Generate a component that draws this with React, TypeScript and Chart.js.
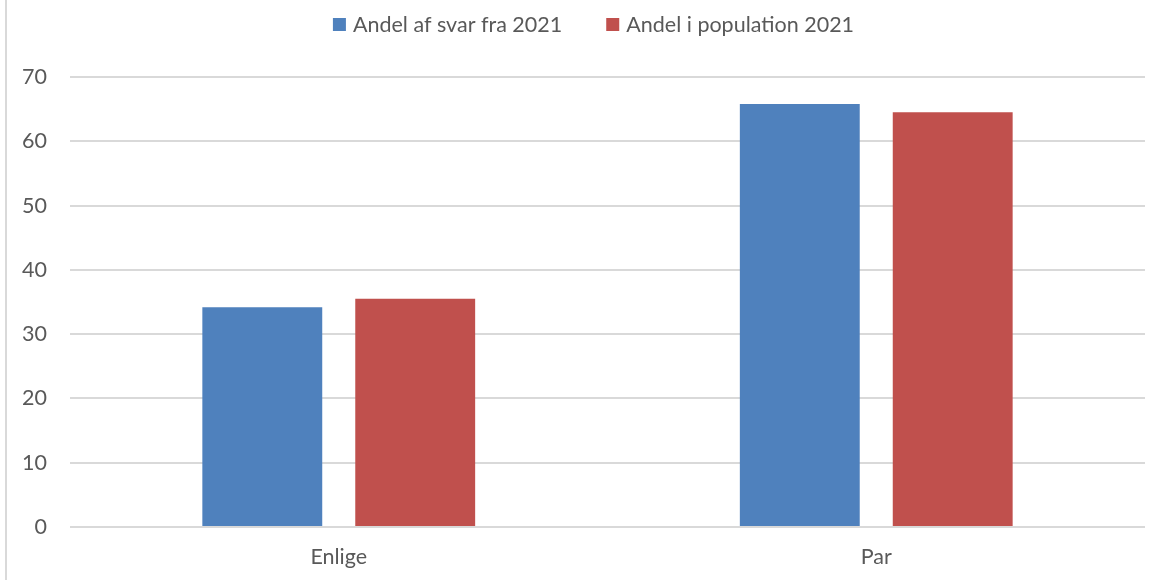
import React, { useEffect, useRef } from "react";
import { Chart, registerables } from "chart.js";

Chart.register(...registerables);

const categories = ["Enlige", "Par"];
const seriesLabels = ["Andel af svar fra 2021", "Andel i population 2021"];
const svarValues = [34.2, 65.8];
const populationValues = [35.5, 64.5];
const yTicks = [0, 10, 20, 30, 40, 50, 60, 70];

const FONT = "Lato";
const FONT_SIZE = 21.5;
const TEXT = "#595959";
const GRID = "#D9D9D9";
const COLORS = ["#4F81BD", "#C0504D"];

const customLegend = {
  id: "customLegend",
  afterDraw(chart: any) {
    const ctx = chart.ctx;
    ctx.save();
    ctx.font = `${FONT_SIZE}px ${FONT}`;
    ctx.textBaseline = "alphabetic";
    ctx.textAlign = "left";
    const box = 13;
    const gapText = 7;
    const itemGap = 44;
    const items = chart.data.datasets.map((d: any) => ({
      label: d.label,
      color: d.backgroundColor,
      w: box + gapText + ctx.measureText(d.label).width,
    }));
    const total =
      items.reduce((s: number, it: any) => s + it.w, 0) + itemGap * (items.length - 1);
    let x = 593.5 - total / 2;
    for (const it of items) {
      ctx.fillStyle = it.color;
      ctx.fillRect(x, 18, box, box);
      ctx.fillStyle = TEXT;
      ctx.fillText(it.label, x + box + gapText, 32);
      x += it.w + itemGap;
    }
    ctx.restore();
  },
};

const leftBorder = {
  id: "leftBorder",
  afterDraw(chart: any) {
    const ctx = chart.ctx;
    ctx.save();
    ctx.fillStyle = GRID;
    ctx.fillRect(5, 0, 2, chart.height);
    ctx.restore();
  },
};

export default function App() {
  const ref = useRef<HTMLCanvasElement>(null);
  useEffect(() => {
    if (!ref.current) return;
    const chart = new Chart(ref.current, {
      type: "bar",
      data: {
        labels: categories,
        datasets: [
          { label: seriesLabels[0], data: svarValues, backgroundColor: COLORS[0], borderWidth: 0 },
          { label: seriesLabels[1], data: populationValues, backgroundColor: COLORS[1], borderWidth: 0 },
        ],
      },
      options: {
        responsive: false,
        animation: false,
        devicePixelRatio: 1,
        layout: { padding: { top: 77, right: 14, left: 0, bottom: 0 } },
        datasets: {
          bar: { categoryPercentage: 0.569, barPercentage: 0.784 },
        },
        plugins: {
          legend: { display: false },
          tooltip: { enabled: false },
          title: { display: false },
        },
        scales: {
          x: {
            grid: { display: false, drawTicks: false },
            border: { display: false },
            ticks: { color: TEXT, font: { family: FONT, size: FONT_SIZE }, padding: 17 },
            afterFit(scale: any) {
              scale.height = 53;
            },
          },
          y: {
            min: 0,
            max: 70,
            afterBuildTicks(scale: any) {
              scale.ticks = yTicks.map((v) => ({ value: v }));
            },
            grid: { color: GRID, lineWidth: 2, drawTicks: false },
            border: { display: false },
            ticks: { color: TEXT, font: { family: FONT, size: FONT_SIZE }, padding: 23 },
            afterFit(scale: any) {
              scale.width = 70;
            },
          },
        },
      },
      plugins: [customLegend, leftBorder],
    });
    return () => chart.destroy();
  }, []);
  return (
    <div style={{ position: "fixed", left: 0, top: 0, width: 1159, height: 580, background: "#fff" }}>
      <canvas ref={ref} width={1159} height={580} style={{ display: "block" }} />
    </div>
  );
}
